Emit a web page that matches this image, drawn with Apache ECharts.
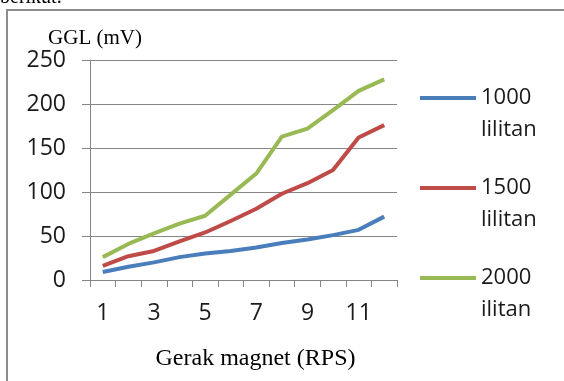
<!DOCTYPE html>
<html>
<head>
<meta charset="utf-8">
<script src="https://cdn.jsdelivr.net/npm/echarts@6/dist/echarts.min.js"></script>
<style>
html,body{margin:0;padding:0;background:#fff;}
#chart{width:564px;height:381px;}
</style>
</head>
<body>
<div id="chart"></div>
<script>
const categories = ['1','2','3','4','5','6','7','8','9','10','11','12'];
const s1000 = [9, 15, 20, 26, 30, 33, 37, 42, 46, 51, 57, 72];
const s1500 = [16, 27, 33, 44, 54, 67, 81, 98, 110, 125, 162, 176];
const s2000 = [26, 41, 53, 64, 73, 97, 121, 163, 172, 193, 215, 228];
const seriesNames = ['1000\nlilitan', '1500\nlilitan', '2000\nilitan'];
const yTicks = { min: 0, max: 250, interval: 50 };

const colors = ['#4a7ebb', '#be4b48', '#98b954'];
const chart = echarts.init(document.getElementById('chart'), null, { renderer: 'canvas' });
const sans = '"Open Sans", sans-serif';
const serif = '"Liberation Serif", serif';
const legendLH = 32;

chart.setOption({
  animation: false,
  backgroundColor: '#fff',
  color: colors,
  grid: { left: 90, right: 167, top: 60, bottom: 101, containLabel: false },
  graphic: [
    { type: 'rect', shape: { x: 7, y: 10, width: 620, height: 420 },
      style: { fill: 'none', stroke: '#8c8c8c', lineWidth: 2 }, silent: true },
    { type: 'text', x: 0, y: -12,
      style: { text: 'berikut.', font: '20px "Liberation Serif", serif', fill: '#000', verticalAlign: 'top' } }
  ],
  legend: {
    orient: 'vertical',
    left: 420,
    top: 50,
    padding: 0,
    itemGap: -6,
    itemWidth: 56,
    itemHeight: 4,
    icon: 'rect',
    formatter: function (n) { return ' \n' + n; },
    textStyle: {
      fontFamily: sans, fontSize: 22, color: '#1a1a1a', lineHeight: legendLH
    },
    data: seriesNames
  },
  xAxis: {
    type: 'category',
    data: categories,
    boundaryGap: true,
    name: 'Gerak magnet (RPS)',
    nameLocation: 'middle',
    nameGap: 67,
    nameTextStyle: { fontFamily: serif, fontSize: 24, color: '#000', padding: [0, 0, 0, 24] },
    axisLine: { lineStyle: { color: '#868686', width: 1 } },
    axisTick: { show: true, length: 7, alignWithLabel: false, interval: 0, lineStyle: { color: '#868686' } },
    axisLabel: { interval: 1, margin: 22, fontFamily: sans, fontSize: 23, color: '#1a1a1a' },
    splitLine: { show: false }
  },
  yAxis: {
    type: 'value',
    min: yTicks.min, max: yTicks.max, interval: yTicks.interval,
    name: 'GGL (mV)',
    nameLocation: 'end',
    nameGap: 10,
    nameTextStyle: { fontFamily: serif, fontSize: 21, color: '#000', padding: [0, 0, 0, 10] },
    axisLine: { show: true, lineStyle: { color: '#868686', width: 1 } },
    axisTick: { show: true, length: 8, lineStyle: { color: '#868686' } },
    axisLabel: { margin: 24, fontFamily: sans, fontSize: 23, color: '#1a1a1a' },
    splitLine: { show: true, lineStyle: { color: '#868686', width: 1 } }
  },
  series: [
    { name: seriesNames[0], type: 'line', data: s1000, symbol: 'none', lineStyle: { width: 4 } },
    { name: seriesNames[1], type: 'line', data: s1500, symbol: 'none', lineStyle: { width: 4 } },
    { name: seriesNames[2], type: 'line', data: s2000, symbol: 'none', lineStyle: { width: 4 } }
  ]
});
</script>
</body>
</html>
